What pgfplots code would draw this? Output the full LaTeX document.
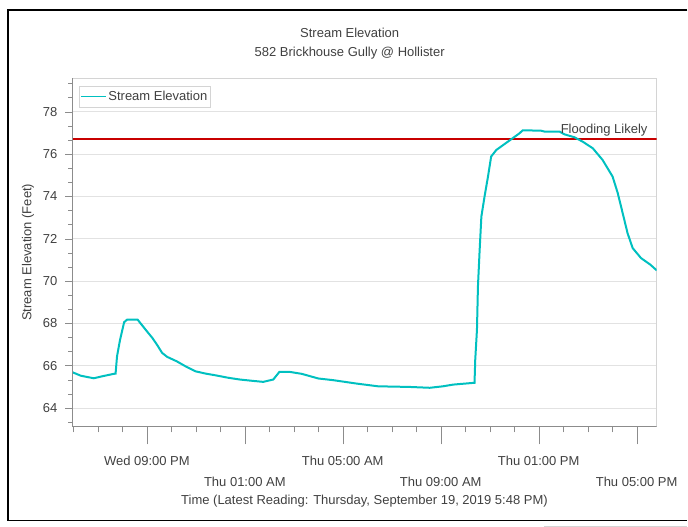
\documentclass[border=0pt]{standalone}
\usepackage{pgfplots}
\pgfplotsset{compat=1.18}
\usepackage{fontspec}
\setmainfont{Liberation Sans}

\definecolor{stream}{RGB}{0,192,192}
\definecolor{flood}{RGB}{200,0,0}
\definecolor{txt}{RGB}{64,64,64}
\definecolor{gridc}{RGB}{226,226,226}
\definecolor{axisc}{RGB}{140,140,140}
\definecolor{boxc}{RGB}{212,212,212}

\begin{document}
\begin{tikzpicture}
\path (0pt,0pt) rectangle (688pt,-527pt);
\draw[black, line width=1.3pt] (688pt,-10pt) -- (8pt,-10pt) -- (8pt,-521pt) -- (688pt,-521pt);
\draw[boxc] (545pt,-526.5pt) -- (688pt,-526.5pt);

\node[txt, font=\fontsize{13}{15}\selectfont] at (350pt,-33pt) {Stream Elevation};
\node[txt, font=\fontsize{13}{15}\selectfont] at (350pt,-53pt) {582 Brickhouse Gully @ Hollister};

\begin{axis}[
  at={(72.3pt,-426.7pt)}, anchor=south west,
  scale only axis, width=585pt, height=348.4pt,
  xmin=17.95, xmax=41.82,
  ymin=63.13, ymax=79.58,
  axis line style={boxc},
  tick align=outside,
  xtick pos=lower, ytick pos=left,
  xtick={21,29,37},
  xticklabels={Wed 09:00 PM, Thu 05:00 AM, Thu 01:00 PM},
  extra x ticks={25,33,41},
  extra x tick labels={Thu 01:00 AM, Thu 09:00 AM, Thu 05:00 PM},
  extra x tick style={xticklabel style={yshift=-21.4pt}},
  minor xtick={18,19,20,22,23,24,26,27,28,30,31,32,34,35,36,38,39,40},
  ytick={64,66,...,78},
  minor ytick={63.333,64.667,65.333,66.667,67.333,68.667,69.333,70.667,71.333,72.667,73.333,74.667,75.333,76.667,77.333,78.667,79.333},
  xtick style={axisc, /pgfplots/major tick length=18pt, /pgfplots/minor tick length=6pt},
  ytick style={axisc, /pgfplots/major tick length=7pt, /pgfplots/minor tick length=4pt},
  ymajorgrids, major grid style={gridc},
  /pgf/number format/assume math mode=true,
  ticklabel style={txt, font=\fontsize{13}{15}\selectfont},
  xticklabel style={anchor=center, yshift=-30pt},
  yticklabel style={anchor=east, xshift=-7pt},
  xlabel={Time (Latest Reading: Thursday, September 19, 2019 5:48 PM)},
  ylabel={Stream Elevation (Feet)},
  label style={txt, font=\fontsize{13}{15}\selectfont},
  xlabel style={at={([yshift=-75pt]axis description cs:0.5,0)}, anchor=center},
  ylabel style={at={([xshift=-44.3pt]axis description cs:0,0.5)}, anchor=center},
  legend style={at={(0.012,0.977)}, anchor=north west, draw=boxc, fill=white,
    font=\fontsize{13}{15}\selectfont, text=txt, inner xsep=1pt, inner ysep=3pt},
  legend image code/.code={\draw[#1, line width=1pt] (0pt,0pt) -- (25pt,0pt);},
]

% flood threshold
\addplot[flood, line width=2.5pt, forget plot] coordinates {(17.95,76.7) (41.82,76.7)};

% stream elevation readings
\addplot[stream, line width=2pt] coordinates {
(17.97,65.68) (18.30,65.52) (18.83,65.40) (19.20,65.50) (19.65,65.61) (19.72,65.62)
(19.78,66.44) (19.90,67.20) (20.07,68.05) (20.19,68.17) (20.62,68.17)
(21.00,67.62) (21.22,67.31) (21.41,66.99) (21.62,66.60) (21.83,66.41)
(22.22,66.20) (22.60,65.95) (22.98,65.73) (23.40,65.62) (23.80,65.54)
(24.34,65.42) (24.80,65.34) (25.30,65.28) (25.75,65.23) (26.16,65.34)
(26.41,65.70) (26.84,65.70) (27.32,65.61) (28.00,65.39) (28.61,65.31)
(29.56,65.15) (30.44,65.02) (31.73,64.99) (32.55,64.95) (33.09,65.02)
(33.50,65.10) (34.31,65.18) (34.38,65.18)
(34.41,66.28) (34.48,67.70) (34.52,69.74) (34.59,71.47) (34.66,73.04)
(34.79,73.99) (34.93,74.93) (35.06,75.88) (35.27,76.19) (35.74,76.58)
(36.22,76.98) (36.35,77.12) (37.10,77.10) (37.24,77.06) (37.85,77.06)
(38.05,76.93) (38.46,76.79) (38.80,76.58) (39.21,76.27) (39.61,75.72)
(40.02,74.93) (40.23,74.15) (40.43,73.21) (40.63,72.26) (40.84,71.55)
(41.18,71.08) (41.56,70.77) (41.82,70.50)
};
\addlegendentry{Stream Elevation}

\node[txt, font=\fontsize{13}{15}\selectfont, anchor=base east, inner sep=0pt]
  at (axis cs:41.45,76.7) [yshift=6pt] {Flooding Likely};

\draw[axisc] (rel axis cs:0,1) -- (rel axis cs:0,0) -- (rel axis cs:1,0);
\end{axis}
\end{tikzpicture}
\end{document}
